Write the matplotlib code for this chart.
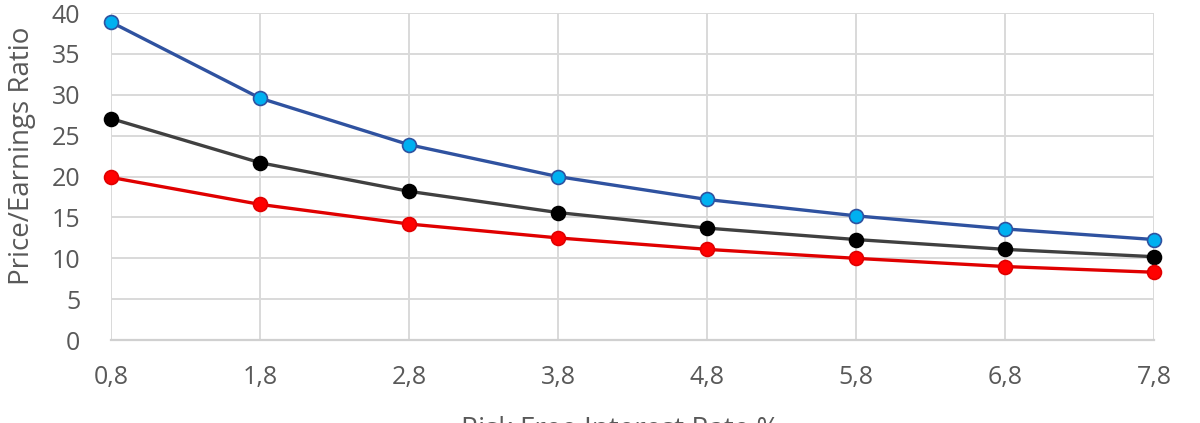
import matplotlib
matplotlib.use('Agg')
import matplotlib.pyplot as plt

# Risk free rate (%) and P/E ratios
rates = [0.8, 1.8, 2.8, 3.8, 4.8, 5.8, 6.8, 7.8]
rate_labels = ['0,8', '1,8', '2,8', '3,8', '4,8', '5,8', '6,8', '7,8']
pe_high = [38.9, 29.6, 23.9, 20.0, 17.2, 15.2, 13.6, 12.3]
pe_mid = [27.1, 21.7, 18.2, 15.6, 13.7, 12.3, 11.1, 10.2]
pe_low = [19.9, 16.6, 14.2, 12.5, 11.1, 10.0, 9.0, 8.3]
y_ticks = [0, 5, 10, 15, 20, 25, 30, 35, 40]

plt.rcParams['font.family'] = ['Open Sans', 'DejaVu Sans']

fig = plt.figure(figsize=(12, 4.23), dpi=100)
fig.patch.set_facecolor('white')
ax = fig.add_axes([0.0925, 0.196, 0.8692, 0.773])

series = [
    (pe_high, '#2F52A0', '#00B0F0', '#2F52A0'),
    (pe_mid, '#404040', '#000000', '#000000'),
    (pe_low, '#E00000', '#FF0000', '#E00000'),
]
for vals, lc, fc, ec in series:
    ax.plot(rates, vals, color=lc, linewidth=2.4, marker='o',
            markersize=10, markerfacecolor=fc, markeredgecolor=ec,
            markeredgewidth=1.2, zorder=3, clip_on=False)

ax.set_xlim(rates[0], rates[-1])
ax.set_ylim(0, 40)
ax.set_xticks(rates)
ax.set_xticklabels(rate_labels)
ax.set_yticks(y_ticks)
ax.grid(True, color='#D9D9D9', linewidth=1.4)
ax.set_axisbelow(True)
for s in ['top', 'right', 'left']:
    ax.spines[s].set_visible(False)
ax.spines['bottom'].set_color('#D0D0D0')
ax.spines['bottom'].set_linewidth(1.6)
ax.tick_params(length=0, labelsize=18, labelcolor='#595959')
ax.tick_params(axis='y', pad=22)
ax.tick_params(axis='x', pad=18)

# x label is cut by the bottom edge, as in the source image
fig.text(0.517, 0.016, 'Risk Free Interest Rate %', ha='center', va='top',
         fontsize=20, color='#595959')
fig.text(0.018, 0.631, 'Price/Earnings Ratio', ha='center', va='center',
         rotation=90, fontsize=20, color='#595959')

fig.savefig('out.png', dpi=100)
